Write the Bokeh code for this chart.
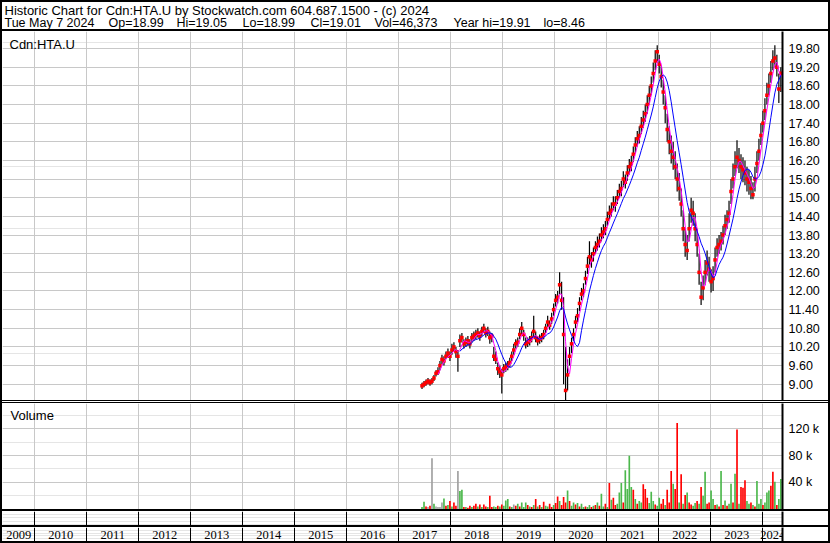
import numpy as np
import pandas as pd
from bokeh.plotting import figure
from bokeh.layouts import column
from bokeh.models import (Range1d, FixedTicker, NumeralTickFormatter, CustomJSTickFormatter,
                          Label, LabelSet, Grid, LinearAxis, ColumnDataSource)
from bokeh.embed import file_html
from bokeh.resources import INLINE

# ---------------- data (bi-weekly bars) ----------------
last_date = "2024-05-07"
close = [
    8.95, 9.00, 9.05, 9.10, 9.05, 9.10, 9.20, 9.35, 9.40, 9.60,
    9.80, 9.75, 9.90, 10.00, 9.90, 10.10, 10.20, 10.05, 9.90, 10.40,
    10.50, 10.30, 10.35, 10.40, 10.30, 10.50, 10.55, 10.60, 10.65, 10.55,
    10.70, 10.80, 10.65, 10.70, 10.50, 10.55, 9.90, 9.80, 9.50, 9.40,
    9.30, 9.50, 9.55, 9.60, 9.70, 9.90, 10.10, 10.30, 10.35, 10.60,
    10.80, 10.60, 10.30, 10.35, 10.40, 10.50, 10.70, 10.50, 10.40, 10.45,
    10.50, 10.60, 10.80, 11.00, 10.90, 11.10, 11.40, 11.70, 11.80, 12.20,
    11.70, 10.60, 8.80, 9.30, 9.90, 10.30, 10.60, 11.00, 11.20, 11.60,
    11.90, 12.00, 12.40, 12.80, 13.10, 13.00, 13.20, 13.40, 13.50, 13.60,
    13.80, 13.90, 14.00, 14.30, 14.50, 14.60, 14.80, 14.80, 15.00, 15.20,
    15.30, 15.60, 15.50, 15.80, 16.00, 16.10, 16.40, 16.70, 16.90, 17.00,
    17.30, 17.50, 17.70, 18.00, 18.30, 18.60, 19.00, 19.40, 19.70, 19.30,
    18.90, 18.40, 17.90, 17.20, 16.80, 16.50, 16.30, 16.00, 15.60, 15.30,
    14.80, 14.00, 13.50, 13.30, 14.00, 14.60, 14.50, 14.00, 13.50, 12.60,
    11.80, 12.10, 12.60, 12.90, 12.70, 12.30, 12.40, 13.00, 13.40, 13.50,
    13.60, 13.80, 14.10, 14.30, 14.50, 15.20, 15.60, 16.00, 16.30, 16.20,
    16.00, 15.90, 15.80, 15.60, 15.50, 15.30, 15.10, 15.60, 16.10, 16.50,
    17.00, 17.40, 17.80, 18.30, 18.60, 19.00, 19.40, 19.50, 19.20, 18.50, 19.01,
]
high = [
    9.05, 9.10, 9.15, 9.20, 9.15, 9.20, 9.30, 9.45, 9.55, 9.75,
    9.95, 9.90, 10.05, 10.15, 10.05, 10.30, 10.35, 10.20, 10.10, 10.60,
    10.65, 10.45, 10.50, 10.55, 10.45, 10.65, 10.70, 10.75, 10.80, 10.70,
    10.85, 10.95, 10.80, 10.85, 10.70, 10.65, 10.20, 10.05, 9.70, 9.60,
    9.50, 9.65, 9.70, 9.75, 9.85, 10.05, 10.30, 10.45, 10.50, 10.80,
    11.00, 10.75, 10.50, 10.50, 10.55, 10.70, 11.20, 10.70, 10.55, 10.60,
    10.65, 10.75, 10.95, 11.20, 11.05, 11.30, 11.60, 11.90, 12.00, 12.60,
    12.30, 11.80, 10.20, 9.80, 10.20, 10.50, 10.80, 11.20, 11.45, 11.80,
    12.10, 12.25, 12.65, 13.10, 13.60, 13.25, 13.40, 13.60, 13.75, 13.85,
    14.05, 14.15, 14.25, 14.55, 14.75, 14.85, 15.05, 15.05, 15.25, 15.45,
    15.55, 15.85, 15.75, 16.05, 16.25, 16.35, 16.65, 16.95, 17.15, 17.30,
    17.60, 17.80, 18.00, 18.30, 18.60, 18.90, 19.35, 19.75, 19.91, 19.60,
    19.25, 18.80, 18.30, 17.70, 17.30, 17.00, 16.80, 16.50, 16.10, 15.80,
    15.30, 14.60, 14.00, 13.80, 14.50, 15.00, 14.90, 14.50, 14.00, 13.20,
    12.30, 12.50, 13.00, 13.30, 13.10, 12.70, 12.80, 13.40, 13.70, 13.80,
    13.90, 14.10, 14.45, 14.60, 14.90, 15.60, 16.10, 16.50, 16.85, 16.60,
    16.40, 16.30, 16.20, 16.00, 15.90, 15.70, 15.50, 16.00, 16.50, 16.90,
    17.40, 17.80, 18.20, 18.70, 19.00, 19.40, 19.75, 19.91, 19.60, 19.00, 19.20,
]
low = [
    8.85, 8.90, 8.95, 9.00, 8.95, 9.00, 9.10, 9.25, 9.30, 9.45,
    9.65, 9.60, 9.80, 9.85, 9.75, 9.95, 10.05, 9.85, 9.40, 10.20,
    10.35, 10.15, 10.20, 10.25, 10.15, 10.35, 10.40, 10.45, 10.50, 10.40,
    10.55, 10.65, 10.50, 10.55, 10.30, 10.35, 9.75, 9.65, 9.30, 9.20,
    8.70, 9.35, 9.40, 9.45, 9.55, 9.75, 9.95, 10.15, 10.20, 10.45,
    10.60, 10.40, 10.15, 10.20, 10.25, 10.35, 10.50, 10.35, 10.25, 10.30,
    10.35, 10.45, 10.65, 10.85, 10.75, 10.95, 11.20, 11.50, 11.60, 11.90,
    11.40, 9.00, 8.46, 8.80, 9.60, 10.00, 10.40, 10.80, 11.00, 11.35,
    11.70, 11.80, 12.20, 12.55, 12.85, 12.75, 12.95, 13.20, 13.30, 13.40,
    13.60, 13.70, 13.80, 14.10, 14.30, 14.40, 14.60, 14.55, 14.80, 15.00,
    15.05, 15.35, 15.30, 15.55, 15.75, 15.85, 16.15, 16.45, 16.65, 16.75,
    17.05, 17.25, 17.45, 17.70, 18.00, 18.30, 18.70, 19.10, 19.35, 19.00,
    18.55, 18.00, 17.40, 16.80, 16.40, 16.10, 15.90, 15.60, 15.20, 14.90,
    14.40, 13.60, 13.10, 13.00, 13.60, 14.20, 14.10, 13.60, 13.10, 12.20,
    11.55, 11.70, 12.20, 12.50, 12.30, 11.95, 12.00, 12.60, 13.10, 13.20,
    13.30, 13.50, 13.80, 14.00, 14.20, 14.80, 15.30, 15.70, 15.95, 15.80,
    15.60, 15.50, 15.40, 15.20, 15.10, 14.95, 14.95, 15.20, 15.80, 16.20,
    16.70, 17.10, 17.50, 18.00, 18.30, 18.70, 19.10, 19.20, 18.90, 18.05, 18.40,
]
volume_k = [
    3, 11, 4, 3, 5, 76, 8, 4, 3, 3,
    10, 16, 5, 6, 12, 4, 10, 5, 57, 27,
    29, 3, 3, 2, 5, 3, 5, 8, 4, 7,
    3, 7, 4, 3, 20, 3, 4, 3, 5, 4,
    7, 5, 13, 15, 4, 3, 7, 5, 8, 4,
    10, 3, 10, 6, 4, 3, 6, 15, 4, 6,
    3, 11, 5, 4, 8, 3, 6, 9, 19, 12,
    6, 18, 10, 28, 12, 5, 10, 7, 9, 4,
    8, 3, 4, 3, 6, 3, 5, 6, 10, 5,
    23, 4, 8, 3, 39, 14, 17, 6, 8, 25,
    39, 10, 58, 30, 80, 33, 29, 15, 8, 12,
    10, 37, 30, 17, 9, 26, 12, 7, 5, 17,
    8, 15, 6, 29, 10, 57, 38, 30, 129, 10,
    52, 8, 21, 25, 10, 7, 5, 9, 12, 8,
    33, 20, 56, 8, 10, 28, 15, 6, 7, 4,
    57, 6, 13, 5, 8, 38, 10, 53, 119, 8,
    33, 32, 43, 12, 8, 10, 6, 4, 42, 8,
    15, 6, 10, 25, 28, 35, 56, 41, 6, 15, 45,
]
# g = up (green), r = down (red), n = unchanged (grey)
vol_dir = ("ggrnrngnnn" "ngrgrgrrng" "grgrrgrrgr" "grrgrrggrg" "rgggrgnrgr"
           "gggrgrgrgr" "grggrrgrrg" "rrrgrggrgr" "ggrggrgrgr" "ggrgrgrrgg"
           "grggggrgrg" "grrrgggrgg" "rrgrrrgrrg" "rgrgrrggrg" "rggrrggrgr"
           "grgrggrgrg" "rrrggrgrgg" "grgggrrgrgg")

price_ticks = [9.00, 9.60, 10.20, 10.80, 11.40, 12.00, 12.60, 13.20, 13.80, 14.40,
               15.00, 15.60, 16.20, 16.80, 17.40, 18.00, 18.60, 19.20, 19.80]
vol_ticks = [40000, 80000, 120000]
years = list(range(2009, 2025))

title_line = "Historic Chart for Cdn:HTA.U by Stockwatch.com 604.687.1500 - (c) 2024"
quote_fields = ["Tue May  7 2024", "Op=18.99", "Hi=19.05", "Lo=18.99", "Cl=19.01",
                "Vol=46,373", "Year hi=19.91", "lo=8.46"]
symbol = "Cdn:HTA.U"

# ---------------- derived ----------------
dates = pd.date_range(end=last_date, periods=len(close), freq="14D")
yr = np.array(dates.year + (dates.dayofyear - 1) / np.where(dates.is_leap_year, 366, 365))
s = pd.Series(close)
ma_short = s.rolling(3).mean().to_numpy()
ma_long = s.rolling(8).mean().to_numpy()
ma_short[yr < 2017.74] = np.nan
ma_long[yr < 2018.14] = np.nan
vol = np.array(volume_k) * 1000.0
cmap = {"g": "#4cb84c", "r": "#ff0000", "n": "#a0a0a0"}
vcol = [cmap[c] for c in vol_dir]

src = ColumnDataSource(dict(x=yr, o=close, h=high, l=low, ms=ma_short, ml=ma_long,
                            v=vol, vc=vcol))

# ---------------- layout constants ----------------
FONT = "Liberation Sans"
W = 826
AXW = 46
FW = W - AXW
X0, X1 = 2009.379, 2024.379
V0 = -3600
GRID = "#c8c8c8"


def panel(frame_h, y_range, css):
    return figure(frame_width=FW, frame_height=frame_h, x_range=Range1d(X0, X1),
                  y_range=y_range, output_backend="svg", toolbar_location=None,
                  x_axis_location=None, y_axis_location=None,
                  min_border_left=0, min_border_top=0, min_border_bottom=0,
                  min_border_right=AXW, outline_line_color=None,
                  background_fill_color="white", border_fill_color="white",
                  styles=css)


def right_axis(p, ticks, fmt=None):
    ax = LinearAxis(ticker=FixedTicker(ticks=ticks))
    if fmt is not None:
        ax.formatter = fmt
    ax.axis_line_color = "black"
    ax.axis_line_width = 2
    ax.major_tick_in = 0
    ax.major_tick_out = 0
    ax.minor_tick_in = 0
    ax.minor_tick_out = 0
    ax.major_label_text_font = FONT
    ax.major_label_text_font_size = "12.5px"
    ax.major_label_text_color = "black"
    ax.major_label_standoff = 6
    p.add_layout(ax, "right")
    return ax


# header
HH = 27
hdr = figure(frame_width=W, frame_height=HH, x_range=Range1d(0, W), y_range=Range1d(HH, 0),
             output_backend="svg", toolbar_location=None, x_axis_location=None,
             y_axis_location=None, min_border=0, outline_line_color=None,
             styles={"border-bottom": "2px solid black"})
hdr.xgrid.visible = False
hdr.ygrid.visible = False
hdr.add_layout(Label(x=2, y=7.5, text=title_line, text_font=FONT, text_font_size="13px",
                     text_baseline="middle", text_color="black"))
field_x = [2, 106, 174, 240, 308, 372, 451, 541]
for fx, ft in zip(field_x, quote_fields):
    hdr.add_layout(Label(x=fx, y=19, text=ft, text_font=FONT, text_font_size="12.5px",
                         text_baseline="middle", text_color="black"))

# price panel
PH = 369
pp = panel(PH, Range1d(8.38, 20.35), {"border-bottom": "3px double black"})
pp.add_layout(Grid(dimension=0, ticker=FixedTicker(ticks=years[1:]), grid_line_color=GRID))
pp.add_layout(Grid(dimension=1, ticker=FixedTicker(ticks=price_ticks), grid_line_color=GRID))
right_axis(pp, price_ticks, NumeralTickFormatter(format="0.00"))
pp.segment(x0="x", y0="l", x1="x", y1="h", source=src, line_color="black", line_width=1.2)
pp.scatter(x="x", y="o", source=src, marker="square", size=3.5, fill_color="#ff0000",
           line_color=None)
pp.line(x="x", y="ms", source=src, line_color="#ff00ff", line_width=1)
pp.line(x="x", y="ml", source=src, line_color="#0000ff", line_width=1)
pp.add_layout(Label(x=7, y=PH - 10, x_units="screen", y_units="screen", text=symbol,
                    text_font=FONT, text_font_size="13px", text_baseline="middle",
                    text_color="black"))

# volume panel
VH = 106
vp = panel(VH, Range1d(V0, 158000), {"border-bottom": "2px solid black"})
vp.add_layout(Grid(dimension=0, ticker=FixedTicker(ticks=years[1:]), grid_line_color=GRID))
vp.add_layout(Grid(dimension=1, ticker=FixedTicker(ticks=vol_ticks), grid_line_color=GRID))
right_axis(vp, vol_ticks, CustomJSTickFormatter(code="return (tick / 1000).toFixed(0) + ' k';"))
vp.vbar(x="x", top="v", bottom=V0, width=0.032, source=src, fill_color="vc",
        line_color=None)
vp.add_layout(Label(x=8, y=VH - 10, x_units="screen", y_units="screen", text="Volume",
                    text_font=FONT, text_font_size="13px", text_baseline="middle",
                    text_color="black"))

# empty strip under the volume panel
sp = panel(14, Range1d(0, 1), {"border-bottom": "2px solid black"})
sp.add_layout(Grid(dimension=0, ticker=FixedTicker(ticks=years[1:]), grid_line_color="black"))
right_axis(sp, [])

# year labels row
lp = panel(14, Range1d(0, 1), {})
lp.add_layout(Grid(dimension=0, ticker=FixedTicker(ticks=years[1:]), grid_line_color="black"))
right_axis(lp, [])
lab_src = ColumnDataSource(dict(
    x=[(max(y, X0) + min(y + 1, X1)) / 2 for y in years],
    y=[0.5] * len(years),
    t=[str(y) for y in years]))
lp.add_layout(LabelSet(x="x", y="y", text="t", source=lab_src, text_align="center",
                       text_baseline="middle", text_font=FONT, text_font_size="12.5px",
                       text_color="black"))

layout = column(hdr, pp, vp, sp, lp, spacing=0,
                styles={"outline": "2px solid black", "margin": "2px"})

open("out.html", "w").write(file_html(layout, INLINE))
